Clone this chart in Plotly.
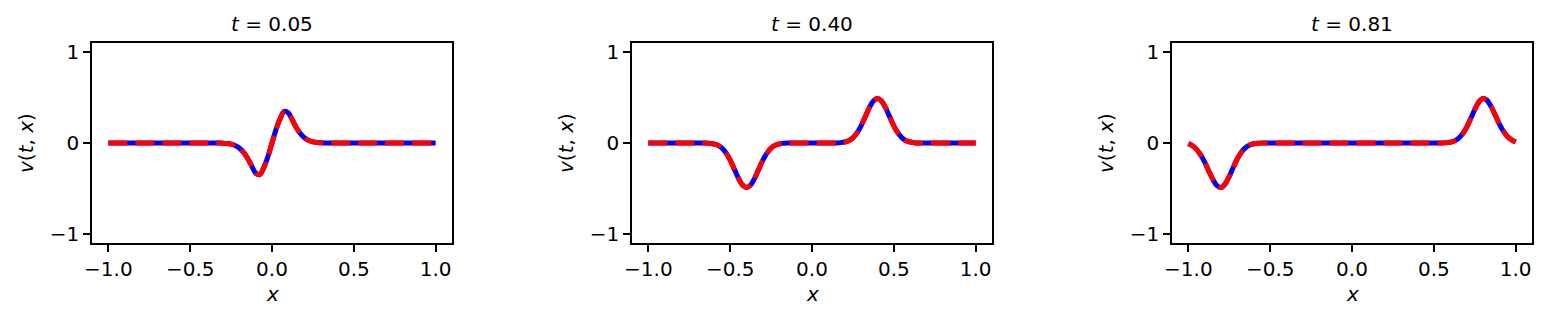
import plotly.graph_objects as go

# sample positions (shared by all three snapshots)
x_grid = [
    -1.0, -0.975, -0.95, -0.925, -0.9, -0.875, -0.85, -0.825, -0.8, -0.775,
    -0.75, -0.725, -0.7, -0.675, -0.65, -0.625, -0.6, -0.575, -0.55, -0.525,
    -0.5, -0.475, -0.45, -0.425, -0.4, -0.375, -0.35, -0.325, -0.3, -0.275,
    -0.25, -0.225, -0.2, -0.175, -0.15, -0.125, -0.1, -0.075, -0.05, -0.025,
    0.0, 0.025, 0.05, 0.075, 0.1, 0.125, 0.15, 0.175, 0.2, 0.225,
    0.25, 0.275, 0.3, 0.325, 0.35, 0.375, 0.4, 0.425, 0.45, 0.475,
    0.5, 0.525, 0.55, 0.575, 0.6, 0.625, 0.65, 0.675, 0.7, 0.725,
    0.75, 0.775, 0.8, 0.825, 0.85, 0.875, 0.9, 0.925, 0.95, 0.975, 1.0,
]

times = ["0.05", "0.40", "0.81"]

# v(t, x), one list per snapshot
v_t005 = ([0.0] * 27 +
          [-0.001, -0.002, -0.005, -0.012, -0.027, -0.055, -0.10, -0.165,
           -0.25, -0.33, -0.348, -0.27, -0.15, 0.0, 0.15, 0.27, 0.348, 0.33,
           0.25, 0.165, 0.10, 0.055, 0.027, 0.012, 0.005, 0.002, 0.001] +
          [0.0] * 27)

v_t040 = ([0.0] * 14 +
          [-0.001, -0.004, -0.011, -0.026, -0.057, -0.111, -0.189, -0.287,
           -0.386, -0.462, -0.49, -0.462, -0.386, -0.287, -0.189, -0.111,
           -0.057, -0.026, -0.011, -0.004, -0.001] +
          [0.0] * 11 +
          [0.001, 0.004, 0.011, 0.026, 0.057, 0.111, 0.189, 0.287, 0.386,
           0.462, 0.49, 0.462, 0.386, 0.287, 0.189, 0.111, 0.057, 0.026,
           0.011, 0.004, 0.001] +
          [0.0] * 14)

v_t081 = ([-0.005, -0.03, -0.07, -0.13, -0.21, -0.31, -0.40, -0.47, -0.49,
           -0.45, -0.367, -0.266, -0.171, -0.098, -0.05, -0.022, -0.009,
           -0.003, -0.001] +
          [0.0] * 43 +
          [0.001, 0.003, 0.009, 0.022, 0.05, 0.098, 0.171, 0.266, 0.367,
           0.45, 0.49, 0.47, 0.40, 0.31, 0.21, 0.13, 0.072, 0.035, 0.01])

# exact solution and prediction coincide at this scale
v_exact = [v_t005, v_t040, v_t081]
v_pred = [v_t005, v_t040, v_t081]

x_ticks = [-1.0, -0.5, 0.0, 0.5, 1.0]
y_ticks = [-1, 0, 1]

W, H = 1546, 321
FONT = "DejaVu Sans"
axis_color = "#000000"

# panel boxes in pixels (left, right), shared top/bottom
panels_px = [(92, 452), (632, 992), (1172, 1532)]
top_px, bottom_px = 43, 243

fig = go.Figure()
layout = dict(
    width=W, height=H,
    margin=dict(l=0, r=0, t=0, b=0, autoexpand=False),
    paper_bgcolor="white", plot_bgcolor="white",
    showlegend=False,
    font=dict(family=FONT, size=20, color="black"),
)

annotations = []
for i, (t, ve, vp) in enumerate(zip(times, v_exact, v_pred)):
    n = "" if i == 0 else str(i + 1)
    xa, ya = "x" + n, "y" + n
    fig.add_trace(go.Scatter(x=x_grid, y=ve, mode="lines", xaxis=xa, yaxis=ya,
                             line=dict(color="#0000ff", width=5, shape="spline")))
    fig.add_trace(go.Scatter(x=x_grid, y=vp, mode="lines", xaxis=xa, yaxis=ya,
                             line=dict(color="#ff0000", width=5, shape="spline",
                                       dash="19px,8px")))
    l, r = panels_px[i]
    common = dict(showline=True, mirror=True, linecolor=axis_color, linewidth=1.6,
                  ticks="outside", ticklen=7, tickwidth=1.6, tickcolor=axis_color,
                  showgrid=False, zeroline=False, automargin=False,
                  tickfont=dict(family=FONT, size=20, color="black"))
    layout["xaxis" + n] = dict(common, domain=[l / W, r / W], range=[-1.1, 1.1],
                               anchor=ya, tickvals=x_ticks, tickformat=".1f")
    layout["yaxis" + n] = dict(common, domain=[1 - bottom_px / H, 1 - top_px / H],
                               range=[-1.1, 1.1], anchor=xa, tickvals=y_ticks)
    annotations.append(dict(text="<i>t</i> = " + t, xref=xa + " domain", x=0.5,
                            yref="paper", y=1 - 24 / H, showarrow=False,
                            xanchor="center", yanchor="middle"))
    annotations.append(dict(text="<i>x</i>", xref=xa + " domain", x=0.5,
                            yref="paper", y=1 - 294 / H, showarrow=False,
                            xanchor="center", yanchor="middle"))
    annotations.append(dict(text="<i>v</i>(<i>t</i>, <i>x</i>)", xref=xa + " domain",
                            x=0, xshift=-66, yref="paper", y=1 - 143 / H,
                            textangle=-90, showarrow=False,
                            xanchor="center", yanchor="middle"))

layout["annotations"] = annotations
fig.update_layout(**layout)
# drop the default page margin so the figure sits at the window origin
fig.write_html("out.html", config={"displayModeBar": False},
               post_script="document.body.style.margin='0';"
                           "document.body.style.overflow='hidden';")
